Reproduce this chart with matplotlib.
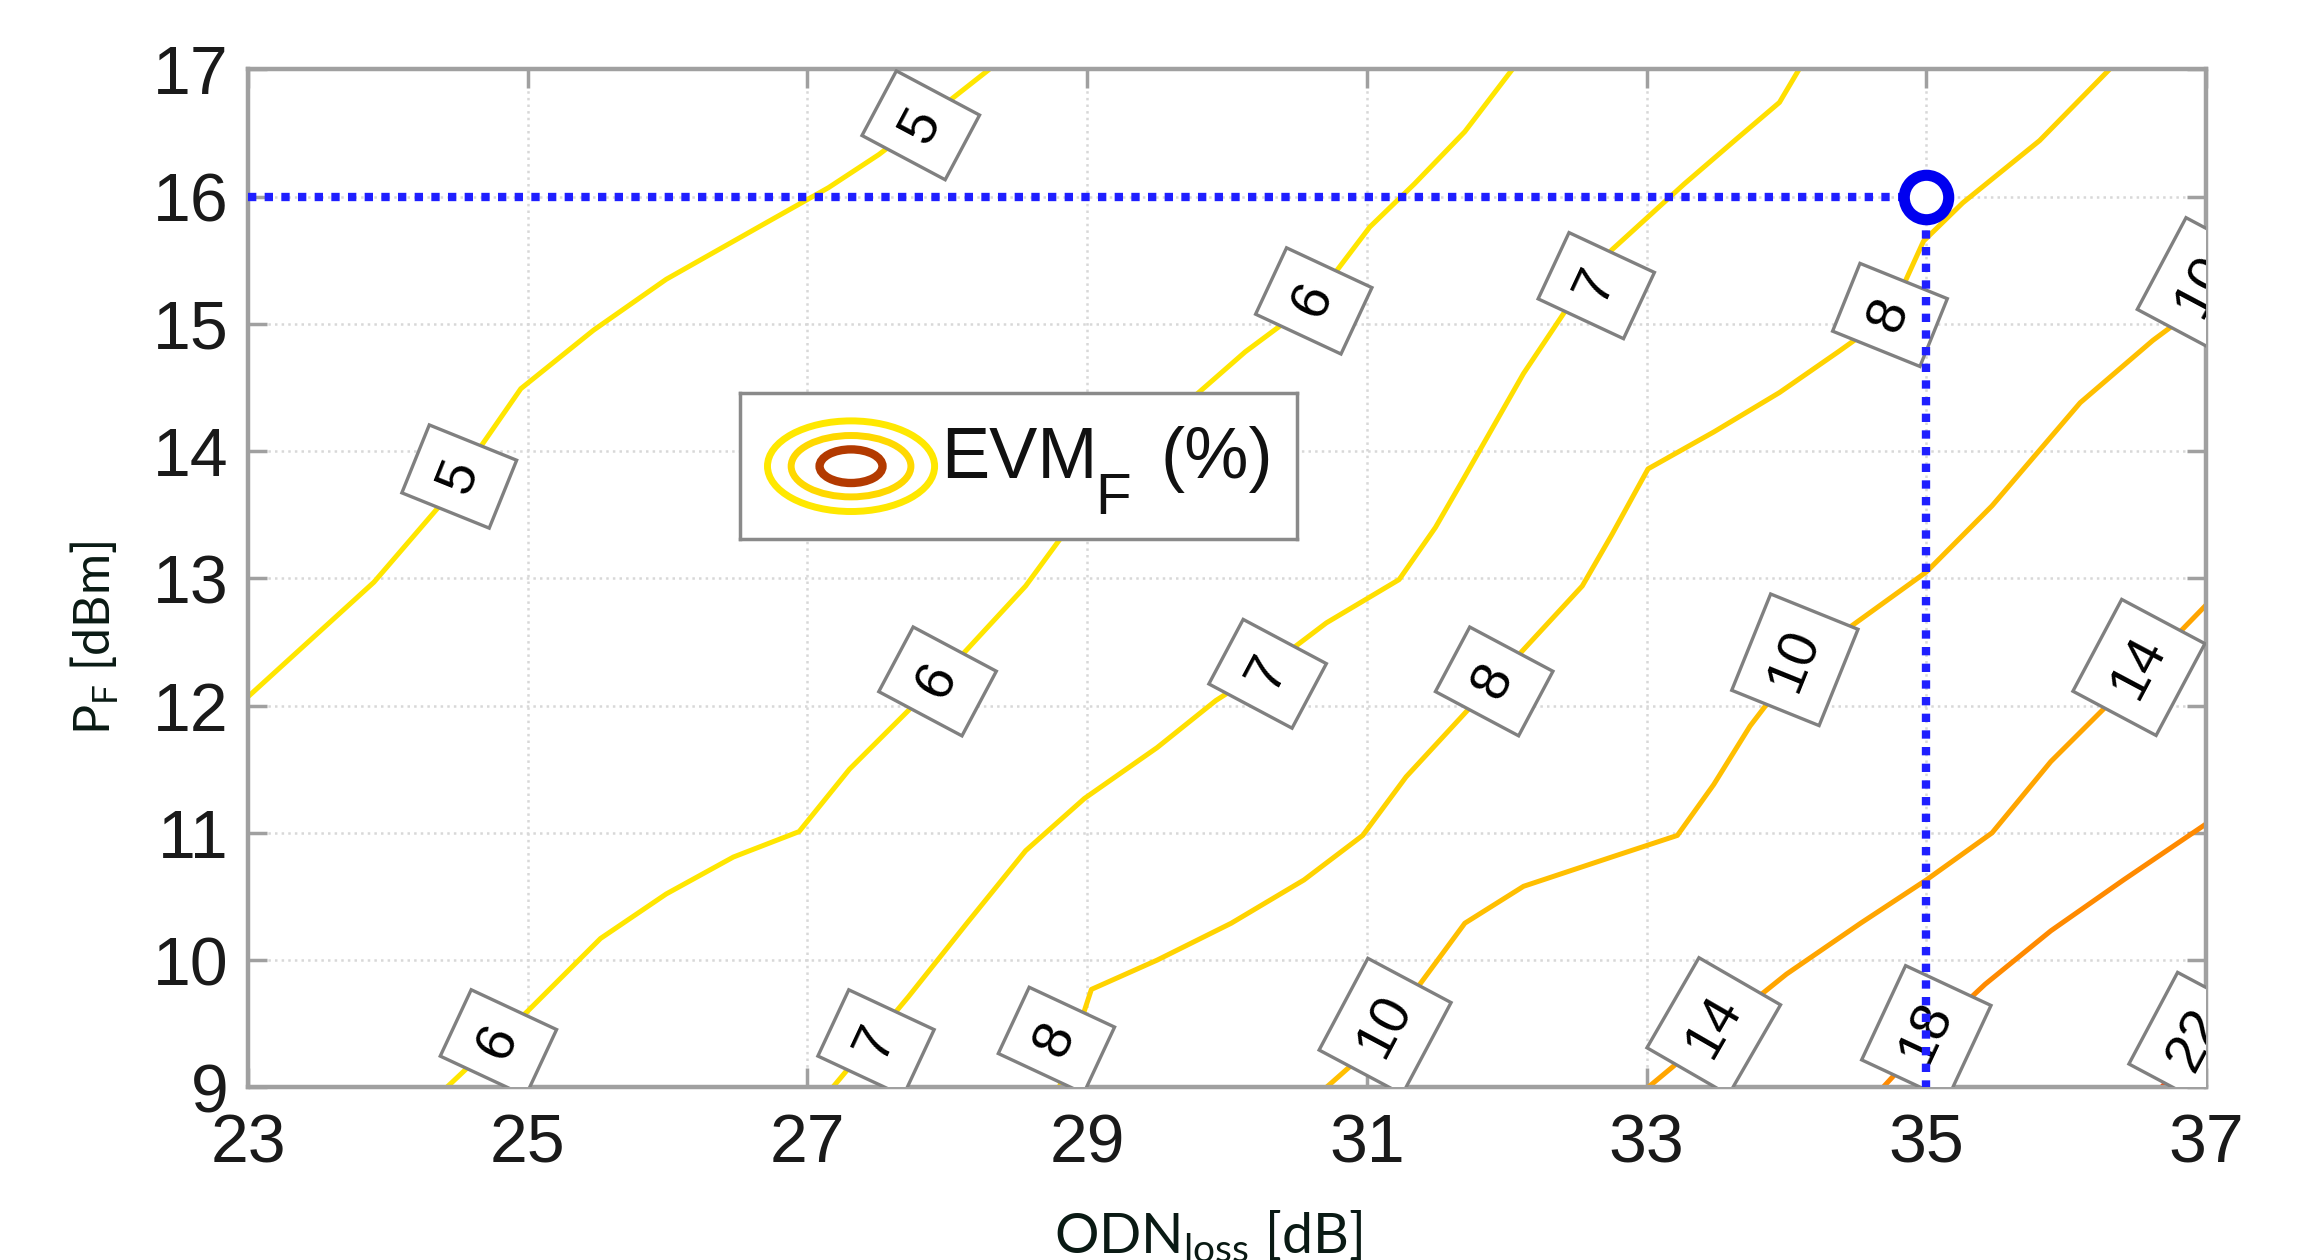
import numpy as np
import matplotlib
matplotlib.use('Agg')
import matplotlib.pyplot as plt
from matplotlib.patches import Ellipse

# EVM_F contour lines: (ODN loss dB, P_F dBm)
c5_x = [23.0, 23.90, 24.37, 24.95, 25.47, 25.99, 26.73, 27.15, 27.51, 27.93, 28.30]
c5_y = [12.07, 12.97, 13.57, 14.49, 14.95, 15.35, 15.81, 16.07, 16.33, 16.68, 17.0]

c6_x = [24.42, 25.0, 25.52, 25.99, 26.47, 26.94, 27.30, 27.93, 28.56, 28.98, 29.35,
        29.61, 30.13, 30.62, 31.02, 31.34, 31.70, 32.04]
c6_y = [9.0, 9.60, 10.17, 10.52, 10.81, 11.01, 11.50, 12.19, 12.94, 13.57, 14.03,
        14.28, 14.78, 15.18, 15.76, 16.10, 16.51, 17.0]

c7_x = [27.18, 27.72, 28.14, 28.56, 28.98, 29.50, 29.92, 30.29, 30.71, 31.23, 31.49,
        31.70, 32.12, 32.43, 32.75, 33.27, 33.64, 33.95, 34.09]
c7_y = [9.0, 9.71, 10.29, 10.86, 11.27, 11.67, 12.04, 12.30, 12.65, 12.99, 13.40,
        13.80, 14.61, 15.12, 15.58, 16.10, 16.45, 16.74, 17.0]

c8_x = [28.80, 29.03, 29.50, 30.03, 30.55, 30.97, 31.28, 31.91, 32.54, 32.75, 33.01,
        33.48, 33.95, 34.37, 34.74, 34.98, 35.26, 35.81, 36.31]
c8_y = [9.0, 9.77, 10.0, 10.29, 10.63, 10.98, 11.44, 12.19, 12.94, 13.34, 13.86,
        14.15, 14.46, 14.78, 15.07, 15.65, 15.95, 16.44, 17.0]

c10_x = [30.71, 31.07, 31.70, 32.12, 32.75, 33.22, 33.48, 33.74, 34.06, 34.42, 35.0,
         35.47, 36.10, 36.62, 37.0]
c10_y = [9.0, 9.35, 10.29, 10.58, 10.81, 10.98, 11.38, 11.84, 12.30, 12.59, 13.05,
         13.57, 14.38, 14.87, 15.18]

c14_x = [33.01, 33.48, 34.0, 34.53, 35.0, 35.47, 35.89, 36.31, 36.62, 37.0]
c14_y = [9.0, 9.43, 9.89, 10.29, 10.63, 11.0, 11.56, 12.02, 12.36, 12.79]

c18_x = [34.69, 35.05, 35.42, 35.89, 36.41, 37.0]
c18_y = [9.0, 9.43, 9.81, 10.23, 10.63, 11.07]

c22_x = [36.68, 37.0]
c22_y = [9.0, 9.35]

contours = [
    (c5_x, c5_y, "#ffe600"),
    (c6_x, c6_y, "#ffe600"),
    (c7_x, c7_y, "#ffdf00"),
    (c8_x, c8_y, "#ffd300"),
    (c10_x, c10_y, "#ffbf00"),
    (c14_x, c14_y, "#ffa500"),
    (c18_x, c18_y, "#ff8a00"),
    (c22_x, c22_y, "#ff4a00"),
]

# contour labels: x, y, text, rotation
lab_x = [24.51, 27.81, 24.79, 27.93, 30.62, 27.49, 30.29, 32.64, 28.78, 31.91, 34.74,
         31.13, 34.06, 36.98, 33.48, 36.52, 35.0, 36.92]
lab_y = [13.80, 16.56, 9.35, 12.19, 15.18, 9.35, 12.25, 15.30, 9.37, 12.19, 15.07,
         9.48, 12.36, 15.30, 9.48, 12.30, 9.43, 9.37]
lab_txt = ["5", "5", "6", "6", "6", "7", "7", "7", "8", "8", "8",
           "10", "10", "10", "14", "14", "18", "22"]
lab_rot = [68, 62, 65, 62, 65, 65, 62, 65, 65, 62, 68,
           62, 68, 62, 60, 62, 65, 62]

# operating point
op_x = 35
op_y = 16

xticks = [23, 25, 27, 29, 31, 33, 35, 37]
yticks = [9, 10, 11, 12, 13, 14, 15, 16, 17]

############ Figure config ############
fig = plt.figure(figsize=(22.97, 12.6), dpi=100)
ax = fig.add_axes([0.108, 0.137, 0.8524, 0.808])
ax.set_xlim(23, 37)
ax.set_ylim(9, 17)
ax.set_xticks(xticks)
ax.set_yticks(yticks)
ax.grid(True, color="#d8d8d8", linestyle=":", linewidth=1.8)
ax.set_axisbelow(True)
for s in ax.spines.values():
    s.set_color("#a0a0a0")
    s.set_linewidth(3.2)
ax.tick_params(direction="in", length=14, width=2.5, color="#a0a0a0",
               top=True, right=True, labelsize=49, labelcolor="#1a1a1a")
ax.tick_params(axis="x", pad=18)
ax.tick_params(axis="y", pad=14)
for t in ax.get_xticklabels() + ax.get_yticklabels():
    t.set_family("Liberation Sans")

for cx, cy, col in contours:
    ax.plot(cx, cy, color=col, linewidth=3.6, zorder=2, solid_capstyle="butt")

for x, y, s, r in zip(lab_x, lab_y, lab_txt, lab_rot):
    ax.text(x, y, s, rotation=r, rotation_mode="anchor", ha="center", va="center",
            fontsize=40, family="Liberation Sans", color="black", zorder=3,
            clip_on=True,
            bbox=dict(boxstyle="square,pad=0.38", fc="white", ec="#808080", lw=2.4))

# blue guide lines to the operating point
ax.plot([23, op_x], [op_y, op_y], color="#1f1fff", linewidth=6,
        linestyle=(0, (1, 1)), zorder=5)
ax.plot([op_x, op_x], [op_y, 9], color="#1f1fff", linewidth=6,
        linestyle=(0, (1, 1)), zorder=5)
ax.plot(op_x, op_y, "o", ms=32, mfc="white", mec="#0000f0", mew=8, zorder=6)

# axis labels
fig.text(0.0414, 0.494, r"P$_\mathregular{F}$ [dBm]", rotation=90, ha="center",
         va="center", fontsize=36, family="Lato", color="#0a1a14")
fig.text(0.526, 0.041, r"ODN$_\mathregular{loss}$ [dB]", ha="center", va="top",
         fontsize=40, family="Lato", color="#0a1a14")

# legend box
lax = fig.add_axes([0.322, 0.572, 0.2425, 0.116], zorder=10)
lax.set_xlim(0, 1)
lax.set_ylim(0, 1)
lax.set_xticks([])
lax.set_yticks([])
for s in lax.spines.values():
    s.set_color("#8a8a8a")
    s.set_linewidth(2.5)
lax.add_patch(Ellipse((0.20, 0.5), 0.30, 0.62, fill=False, ec="#ffe800", lw=5))
lax.add_patch(Ellipse((0.20, 0.5), 0.215, 0.42, fill=False, ec="#ffd800", lw=5))
lax.add_patch(Ellipse((0.20, 0.5), 0.113, 0.23, fill=False, ec="#b33a00", lw=6))
lax.text(0.362, 0.42, "EVM", fontsize=52, family="Liberation Sans", ha="left",
         va="baseline", color="#111111")
lax.text(0.638, 0.175, "F", fontsize=42, family="Liberation Sans", ha="left",
         va="baseline", color="#111111")
lax.text(0.755, 0.42, "(%)", fontsize=52, family="Liberation Sans", ha="left",
         va="baseline", color="#111111")

plt.savefig("out.png", dpi=100)
